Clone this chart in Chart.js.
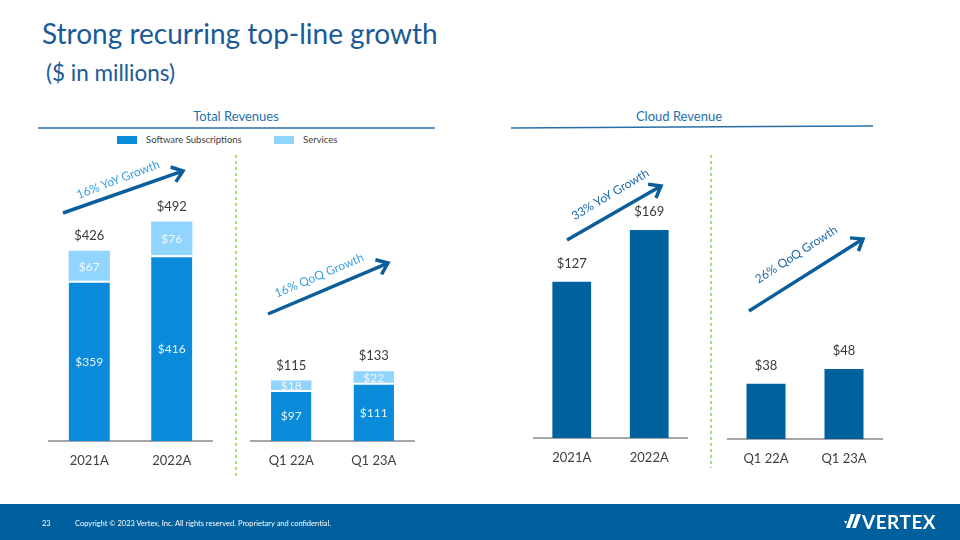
<!DOCTYPE html>
<html><head><meta charset="utf-8">
<script src="https://cdn.jsdelivr.net/npm/chart.js@4.4.0/dist/chart.umd.min.js"></script>
<style>
html,body{margin:0;padding:0;background:#fff;}
#page{position:relative;width:960px;height:540px;overflow:hidden;font-family:Lato,"Open Sans",sans-serif;}
.abs{position:absolute;white-space:nowrap;}
canvas{position:absolute;}
.grow{position:absolute;font-size:12px;transform:translate(-50%,-50%);white-space:nowrap;}
</style></head>
<body><div id="page">
<div class="abs" style="left:42px;top:16px;font-size:28px;color:#1a5a98;">Strong recurring top-line growth</div>
<div class="abs" style="left:46px;top:59px;font-size:22.5px;color:#1a5a98;">($ in millions)</div>
<div class="abs" style="left:236px;top:108px;font-size:13px;color:#2470ad;transform:translateX(-50%);">Total Revenues</div>
<div class="abs" style="left:679px;top:108px;font-size:13px;color:#2470ad;transform:translateX(-50%);">Cloud Revenue</div>
<div class="abs" style="left:117px;top:136px;width:20px;height:8px;background:#0a8bd9;"></div>
<div class="abs" style="left:146px;top:134px;font-size:9.5px;color:#404040;">Software Subscriptions</div>
<div class="abs" style="left:274px;top:136px;width:20px;height:8px;background:#91d4fd;"></div>
<div class="abs" style="left:303px;top:134px;font-size:9.5px;color:#404040;">Services</div>

<canvas id="c1" width="165" height="331" style="left:48px;top:150px;"></canvas>
<canvas id="c2" width="165" height="331" style="left:250px;top:150px;"></canvas>
<canvas id="c3" width="155" height="328" style="left:533px;top:150px;"></canvas>
<canvas id="c4" width="156" height="329" style="left:727px;top:150px;"></canvas>

<svg id="deco" class="abs" style="left:0;top:0;" width="960" height="540"></svg>
<div id="growth"></div>

<div class="abs" style="left:0;top:504px;width:960px;height:36px;background:#00609d;"></div>
<div class="abs" style="left:42px;top:519px;font-size:7.5px;color:#fff;">23</div>
<div class="abs" style="left:75px;top:519px;font-size:7.5px;color:#fff;">Copyright © 2023 Vertex, Inc. All rights reserved. Proprietary and confidential.</div>
<svg class="abs" style="left:844px;top:512px;" width="20" height="18">
  <polygon points="2,16 6,16 11,2 7,2" fill="#fff"/>
  <polygon points="8,16 12,16 17,2 13,2" fill="#fff"/>
  <polygon points="0,9 3,9 2,12" fill="#fff"/>
</svg>
<div class="abs" style="left:862px;top:510px;font-size:19px;font-weight:bold;color:#fff;letter-spacing:0.5px;">VERTEX</div>
</div>
<script>
// ---- data ----
const annualCategories = ['2021A', '2022A'];
const quarterCategories = ['Q1 22A', 'Q1 23A'];
const annualSoftware = [359, 416];
const annualServices = [67, 76];
const annualTotals = [426, 492];
const quarterSoftware = [97, 111];
const quarterServices = [18, 22];
const quarterTotals = [115, 133];
const cloudAnnual = [127, 169];
const cloudQuarter = [38, 48];
const growthLabels = ['16% YoY Growth', '16% QoQ Growth', '33% YoY Growth', '26% QoQ Growth'];

Chart.defaults.font.family = 'Lato, "Open Sans", sans-serif';
Chart.defaults.animation = false;

const valPlugin = {
  id: 'vals',
  afterDatasetsDraw(chart, args, opts) {
    const ctx = chart.ctx;
    ctx.save();
    ctx.textAlign = 'center';
    ctx.textBaseline = 'middle';
    chart.data.datasets.forEach((ds, di) => {
      if (!ds.innerLabelColor) return;
      const meta = chart.getDatasetMeta(di);
      ctx.font = '12px Lato, "Open Sans", sans-serif';
      ctx.fillStyle = ds.innerLabelColor;
      meta.data.forEach((bar, i) => {
        const p = bar.getProps(['x', 'y', 'base'], true);
        ctx.fillText('$' + ds.data[i], p.x, (p.y + p.base) / 2 + 1);
      });
    });
    const lastMeta = chart.getDatasetMeta(chart.data.datasets.length - 1);
    ctx.font = '13px Lato, "Open Sans", sans-serif';
    ctx.fillStyle = '#3a3a3a';
    lastMeta.data.forEach((bar, i) => {
      const p = bar.getProps(['x', 'y'], true);
      ctx.fillText('$' + opts.totals[i], p.x, p.y - opts.offset);
    });
    ctx.restore();
  }
};

function makeChart(id, labels, datasets, totals, ymax, barPct, offset) {
  return new Chart(document.getElementById(id), {
    type: 'bar',
    data: { labels, datasets },
    plugins: [valPlugin],
    options: {
      responsive: false,
      layout: { padding: 0 },
      plugins: { legend: { display: false }, tooltip: { enabled: false }, vals: { totals, offset } },
      datasets: { bar: { categoryPercentage: 1, barPercentage: barPct } },
      scales: {
        x: {
          stacked: true,
          grid: { display: false, drawTicks: false },
          border: { display: true, color: '#a6a6a6', width: 2 },
          ticks: { color: '#404040', font: { size: 13 }, padding: 12 },
          afterFit(scale) { scale.height = 40; }
        },
        y: { stacked: true, display: false, min: 0, max: ymax }
      }
    }
  });
}

function stacked(soft, serv) {
  return [
    { label: 'Software Subscriptions', data: soft, backgroundColor: '#0a8bd9', borderColor: '#ffffff',
      borderWidth: { top: 2 }, borderSkipped: 'bottom', innerLabelColor: '#eaf5fd' },
    { label: 'Services', data: serv, backgroundColor: '#91d4fd', borderWidth: 0, innerLabelColor: '#eef8ff' }
  ];
}
function cloud(vals) {
  return [{ label: 'Cloud Revenue', data: vals, backgroundColor: '#00619f', borderWidth: 0 }];
}

makeChart('c1', annualCategories, stacked(annualSoftware, annualServices), annualTotals, 652, 0.5, 15);
makeChart('c2', quarterCategories, stacked(quarterSoftware, quarterServices), quarterTotals, 554, 0.49, 15);
makeChart('c3', annualCategories, cloud(cloudAnnual), cloudAnnual, 234, 0.5, 18);
makeChart('c4', quarterCategories, cloud(cloudQuarter), cloudQuarter, 198.5, 0.5, 18);

// ---- decorations ----
const NS = 'http://www.w3.org/2000/svg';
const svg = document.getElementById('deco');
function el(tag, attrs) { const e = document.createElementNS(NS, tag); for (const k in attrs) e.setAttribute(k, attrs[k]); svg.appendChild(e); return e; }
el('line', { x1: 38, y1: 128, x2: 435, y2: 128, stroke: '#2a6ea8', 'stroke-width': 1.5 });
el('line', { x1: 511, y1: 128, x2: 873, y2: 126, stroke: '#2a6ea8', 'stroke-width': 1.5 });
el('line', { x1: 236, y1: 155, x2: 236, y2: 478, stroke: '#8fd14f', 'stroke-width': 1.5, 'stroke-dasharray': '3,3' });
el('line', { x1: 711, y1: 155, x2: 711, y2: 468, stroke: '#8fd14f', 'stroke-width': 1.5, 'stroke-dasharray': '3,3' });
const arrows = [[63, 213, 183, 171], [268, 314, 388, 263], [567, 240, 661, 186], [749, 311, 863, 239]];
arrows.forEach(([x1, y1, x2, y2]) => {
  const a = Math.atan2(y2 - y1, x2 - x1), L = 13, s = 0.65;
  el('line', { x1, y1, x2: x2 - 2 * Math.cos(a), y2: y2 - 2 * Math.sin(a), stroke: '#0b5e9b', 'stroke-width': 3.5 });
  const p1 = [x2 - L * Math.cos(a - s), y2 - L * Math.sin(a - s)];
  const p2 = [x2 - L * Math.cos(a + s), y2 - L * Math.sin(a + s)];
  el('polyline', { points: `${p1[0]},${p1[1]} ${x2},${y2} ${p2[0]},${p2[1]}`, fill: 'none', stroke: '#0b5e9b', 'stroke-width': 3.5 });
});
const growthPos = [[118, 179, -21, '#3aa0e0'], [319, 275, -23, '#3aa0e0'], [610, 194, -31, '#1c6aaa'], [796, 254, -33, '#1c6aaa']];
const gdiv = document.getElementById('growth');
growthLabels.forEach((t, i) => {
  const [x, y, r, c] = growthPos[i];
  const d = document.createElement('div');
  d.className = 'grow';
  d.textContent = t;
  d.style.left = x + 'px'; d.style.top = y + 'px'; d.style.color = c;
  d.style.transform = `translate(-50%,-50%) rotate(${r}deg)`;
  gdiv.appendChild(d);
});
</script>
</body></html>
